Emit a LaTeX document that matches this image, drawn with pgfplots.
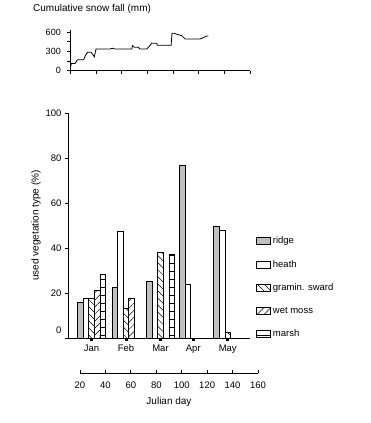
\documentclass[border=0pt]{standalone}
\usepackage{fontspec}
\setmainfont{Liberation Sans}
\usepackage{pgfplots}
\pgfplotsset{compat=1.18}
\usetikzlibrary{patterns.meta}
\definecolor{ridgegray}{RGB}{192,192,192}
\pgfplotsset{legbox/.style={legend image code/.code={\draw[##1] (0pt,-3.5pt) rectangle (14pt,3.5pt);}}}
\begin{document}
\begin{tikzpicture}[x=1pt,y=1pt]
\path[use as bounding box] (0,0) rectangle (370,423);

% ---------- top: cumulative snow fall ----------
\begin{axis}[
  at={(70.3pt,352.3pt)}, anchor=south west,
  scale only axis, width=180pt, height=40.7pt,
  xmin=0, xmax=140, ymin=0, ymax=630,
  axis x line=bottom, axis y line=left,
  axis line style={-, line width=0.8pt},
  xtick={0,20,...,140}, xticklabels={},
  ytick={0,300,600}, minor ytick={150,450},
  tick align=outside, major tick length=3pt, minor tick length=3pt,
  every tick/.style={black, line width=0.8pt},
  every minor tick/.style={black, line width=0.8pt},
  /pgf/number format/assume math mode=true,
  yticklabel style={font=\fontsize{9}{10}\selectfont, xshift=-3pt},
  title={Cumulative snow fall (mm)},
  title style={at={(axis description cs:0,1)}, anchor=base west, inner sep=0pt,
    xshift=-37.3pt, yshift=12.5pt, font=\fontsize{10}{12}\selectfont},
]
\addplot[black, line width=0.8pt] coordinates {
(0,40) (0.8,110) (3.7,110) (5.2,160) (6.2,170) (10.4,170) (12.0,245) (13.5,285)
(16.1,285) (17.9,240) (18.7,215) (20.0,335) (30.9,335) (32.7,347) (34.8,335)
(47.8,335) (48.5,390) (49.8,363) (52.9,363) (54.2,335) (59.5,335) (62.0,390)
(63.3,425) (67.2,425) (67.7,393) (78.4,393) (79.1,580) (80.7,580) (82.8,564)
(86.7,543) (89.3,491) (100.9,491) (103.5,512) (106.1,538) (107.4,538)
};
\end{axis}

% ---------- bottom: Julian day scale ----------
\begin{axis}[
  at={(80pt,49.7pt)}, anchor=south west,
  scale only axis, width=178pt, height=10pt,
  xmin=20, xmax=160, ymin=0, ymax=1,
  axis x line=bottom, axis y line=none,
  axis line style={-, line width=0.8pt},
  xtick={20,40,...,160}, tick align=inside, major tick length=3pt,
  every tick/.style={black, line width=0.8pt},
  /pgf/number format/assume math mode=true,
  xticklabel style={font=\fontsize{9.5}{10}\selectfont, yshift=-5pt},
  xlabel={Julian day},
  xlabel style={font=\fontsize{10}{12}\selectfont, yshift=-2pt},
]
\end{axis}

% ---------- main: used vegetation type ----------
\begin{axis}[
  at={(68pt,85pt)}, anchor=south west,
  scale only axis, width=182pt, height=225pt,
  xmin=10.56, xmax=153.7, ymin=0, ymax=100,
  axis x line=bottom, axis y line=left,
  axis line style={-, line width=0.8pt},
  ybar=0pt, bar width=5.6pt,
  xtick={29.05,56.18,83.32,109.1,136.2},
  xticklabels={Jan,Feb,Mar,Apr,May},
  ytick={0,20,40,60,80,100},
  yticklabels={,20,40,60,80,100},
  extra y ticks={3.5}, extra y tick labels={0},
  extra y tick style={y tick style={draw=none}},
  tick align=outside, major tick length=3pt,
  x tick style={black, line width=3pt},
  y tick style={black, line width=0.8pt},
  /pgf/number format/assume math mode=true,
  ticklabel style={font=\fontsize{9.5}{10}\selectfont},
  xticklabel style={text height=7pt, text depth=2pt},
  ylabel={used vegetation type (\%)},
  ylabel style={at={(axis description cs:-0.176,0.5)}, anchor=center,
    font=\fontsize{10}{12}\selectfont},
  legend style={draw=none, fill=none, at={(axis description cs:1.033,0.459)},
    anchor=north west, font=\fontsize{9.5}{10}\selectfont, row sep=11pt,
    inner sep=0pt},
  legend cell align=left,
]
\addplot[draw=black, line width=0.7pt, fill=ridgegray, legbox]
  coordinates {(29.05,15.9) (56.18,22.5) (83.32,25.2) (109.1,76.9) (136.2,49.8)};
\addlegendentry{ridge}
\addplot[draw=black, line width=0.7pt, fill=white, legbox]
  coordinates {(29.05,17.6) (56.18,47.6) (109.1,24.0) (136.2,48.0)};
\addlegendentry{heath}
\addplot[draw=black, line width=0.7pt, pattern={Lines[angle=-45,distance=5pt,line width=0.5pt]}, legbox]
  coordinates {(29.05,17.6) (56.18,13.2) (83.32,38.2) (136.2,2.7)};
\addlegendentry{gramin. sward}
\addplot[draw=black, line width=0.7pt, pattern={Lines[angle=45,distance=5pt,line width=0.5pt]}, legbox]
  coordinates {(29.05,21.2) (56.18,17.6)};
\addlegendentry{wet moss}
\addplot[draw=black, line width=0.7pt, pattern={Lines[angle=0,distance=8pt,line width=0.6pt]}, legbox]
  coordinates {(29.05,28.3) (83.32,37.3)};
\addlegendentry{marsh}
\end{axis}
\end{tikzpicture}
\end{document}
